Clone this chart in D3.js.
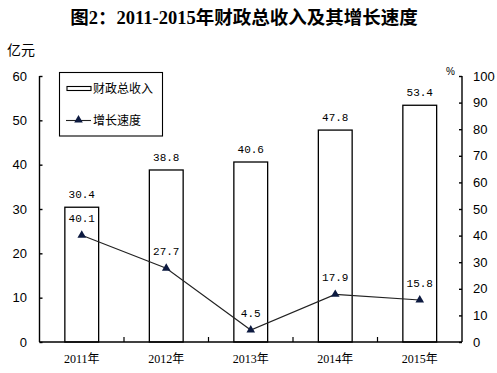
<!DOCTYPE html>
<html>
<head>
<meta charset="utf-8">
<script src="https://cdn.jsdelivr.net/npm/d3@7"></script>
<style>
  body { margin: 0; background: #fff; }
  svg { display: block; }
</style>
</head>
<body>
<div id="chart"></div>
<script>
// chart data
const years = ["2011年", "2012年", "2013年", "2014年", "2015年"];
const revenue = [30.4, 38.8, 40.6, 47.8, 53.4];   // 财政总收入 (亿元)
const growth = [40.1, 27.7, 4.5, 17.9, 15.8];      // 增长速度 (%)
const leftTicks = [0, 10, 20, 30, 40, 50, 60];
const rightTicks = [0, 10, 20, 30, 40, 50, 60, 70, 80, 90, 100];

const width = 497, height = 373;
const plot = { left: 39.5, right: 462, top: 76, bottom: 342 };

const svg = d3.select("#chart")
  .append("svg")
  .attr("width", width)
  .attr("height", height);

// title
svg.append("text")
  .attr("x", 244)
  .attr("y", 24)
  .attr("text-anchor", "middle")
  .attr("font-family", "'Liberation Serif', 'Noto Sans CJK SC'")
  .attr("font-weight", "bold")
  .attr("font-size", "18.5px")
  .text("图2：2011-2015年财政总收入及其增长速度");

svg.append("text")
  .attr("x", 7)
  .attr("y", 55)
  .attr("font-family", "'Noto Sans CJK SC'")
  .attr("font-size", "14px")
  .text("亿元");

svg.append("text")
  .attr("x", 446)
  .attr("y", 75)
  .attr("font-family", "'Liberation Sans'")
  .attr("font-size", "10px")
  .text("%");

// scales
const xScale = d3.scaleBand()
  .domain(years)
  .range([plot.left, plot.right])
  .padding(0);

const yLeft = d3.scaleLinear()
  .domain([0, 60])
  .range([plot.bottom, plot.top]);

const yRight = d3.scaleLinear()
  .domain([0, 100])
  .range([plot.bottom, plot.top]);

const barW = xScale.bandwidth() * 0.4;
const cx = (d) => xScale(d) + xScale.bandwidth() / 2;

// bars
svg.selectAll("rect.bar")
  .data(revenue)
  .enter()
  .append("rect")
    .attr("class", "bar")
    .attr("x", (d, i) => cx(years[i]) - barW / 2)
    .attr("y", (d) => yLeft(d))
    .attr("width", barW)
    .attr("height", (d) => yLeft(0) - yLeft(d))
    .attr("fill", "#fff")
    .attr("stroke", "#000")
    .attr("stroke-width", 1.3);

svg.selectAll("text.barlabel")
  .data(revenue)
  .enter()
  .append("text")
    .attr("class", "barlabel")
    .attr("x", (d, i) => cx(years[i]))
    .attr("y", (d) => yLeft(d) - 9)
    .attr("text-anchor", "middle")
    .attr("font-family", "'Liberation Mono'")
    .attr("font-size", "11px")
    .text((d) => d.toFixed(1));

// axes
const leftAxis = svg.append("g")
  .attr("transform", `translate(${plot.left},0)`)
  .call(d3.axisRight(yLeft).tickValues(leftTicks).tickSize(3).tickFormat(""));
leftAxis.selectAll("path, line").attr("stroke", "#000").attr("stroke-width", 1.4);
leftAxis.select(".domain").attr("d", `M0,${plot.top}V${plot.bottom}`);

svg.selectAll("text.ltick")
  .data(leftTicks)
  .enter()
  .append("text")
    .attr("class", "ltick")
    .attr("x", 27)
    .attr("y", (d) => yLeft(d) + 4.5)
    .attr("text-anchor", "end")
    .attr("font-family", "'Liberation Sans'")
    .attr("font-size", "13px")
    .text((d) => d);

const rightAxis = svg.append("g")
  .attr("transform", `translate(${plot.right},0)`)
  .call(d3.axisLeft(yRight).tickValues(rightTicks).tickSize(3).tickFormat(""));
rightAxis.selectAll("path, line").attr("stroke", "#000").attr("stroke-width", 1.4);
rightAxis.select(".domain").attr("d", `M0,${plot.top}V${plot.bottom}`);

svg.selectAll("text.rtick")
  .data(rightTicks)
  .enter()
  .append("text")
    .attr("class", "rtick")
    .attr("x", 473)
    .attr("y", (d) => yRight(d) + 4.5)
    .attr("font-family", "'Liberation Sans'")
    .attr("font-size", "13px")
    .text((d) => d);

// x axis: baseline with tick marks between categories pointing up
svg.append("line")
  .attr("x1", plot.left).attr("x2", plot.right)
  .attr("y1", plot.bottom).attr("y2", plot.bottom)
  .attr("stroke", "#000").attr("stroke-width", 1.4);

svg.selectAll("line.xtick")
  .data(years.slice(1))
  .enter()
  .append("line")
    .attr("class", "xtick")
    .attr("x1", (d) => xScale(d)).attr("x2", (d) => xScale(d))
    .attr("y1", plot.bottom).attr("y2", plot.bottom - 5)
    .attr("stroke", "#000").attr("stroke-width", 1.2);

svg.selectAll("text.xlabel")
  .data(years)
  .enter()
  .append("text")
    .attr("class", "xlabel")
    .attr("x", (d) => cx(d))
    .attr("y", 363)
    .attr("text-anchor", "middle")
    .attr("font-family", "'Liberation Serif', 'Noto Sans CJK SC'")
    .attr("font-size", "12px")
    .text((d) => d);

// growth line
const line = d3.line()
  .x((d, i) => cx(years[i]))
  .y((d) => yRight(d));

svg.append("path")
  .datum(growth)
  .attr("d", line)
  .attr("fill", "none")
  .attr("stroke", "#222")
  .attr("stroke-width", 1.1);

const tri = d3.symbol().type(d3.symbolTriangle).size(32);

svg.selectAll("path.marker")
  .data(growth)
  .enter()
  .append("path")
    .attr("class", "marker")
    .attr("d", tri)
    .attr("transform", (d, i) => `translate(${cx(years[i])},${yRight(d)})`)
    .attr("fill", "#0d1a40");

svg.selectAll("text.linelabel")
  .data(growth)
  .enter()
  .append("text")
    .attr("class", "linelabel")
    .attr("x", (d, i) => cx(years[i]))
    .attr("y", (d) => yRight(d) - 13)
    .attr("text-anchor", "middle")
    .attr("font-family", "'Liberation Mono'")
    .attr("font-size", "11px")
    .text((d) => d.toFixed(1));

// legend
const legend = svg.append("g");
legend.append("rect")
  .attr("x", 59.5).attr("y", 72.5)
  .attr("width", 103).attr("height", 63.5)
  .attr("fill", "#fff").attr("stroke", "#000").attr("stroke-width", 1.1);

legend.append("rect")
  .attr("x", 67).attr("y", 86.5)
  .attr("width", 24).attr("height", 4)
  .attr("fill", "#fff").attr("stroke", "#000").attr("stroke-width", 1.1);

legend.append("text")
  .attr("x", 93).attr("y", 93)
  .attr("font-family", "'Noto Sans CJK SC'")
  .attr("font-size", "12px")
  .text("财政总收入");

legend.append("line")
  .attr("x1", 66).attr("x2", 91)
  .attr("y1", 120.5).attr("y2", 120.5)
  .attr("stroke", "#222").attr("stroke-width", 1.1);

legend.append("path")
  .attr("d", tri)
  .attr("transform", "translate(78.5,120)")
  .attr("fill", "#0d1a40");

legend.append("text")
  .attr("x", 93).attr("y", 125)
  .attr("font-family", "'Noto Sans CJK SC'")
  .attr("font-size", "12px")
  .text("增长速度");
</script>
</body>
</html>
